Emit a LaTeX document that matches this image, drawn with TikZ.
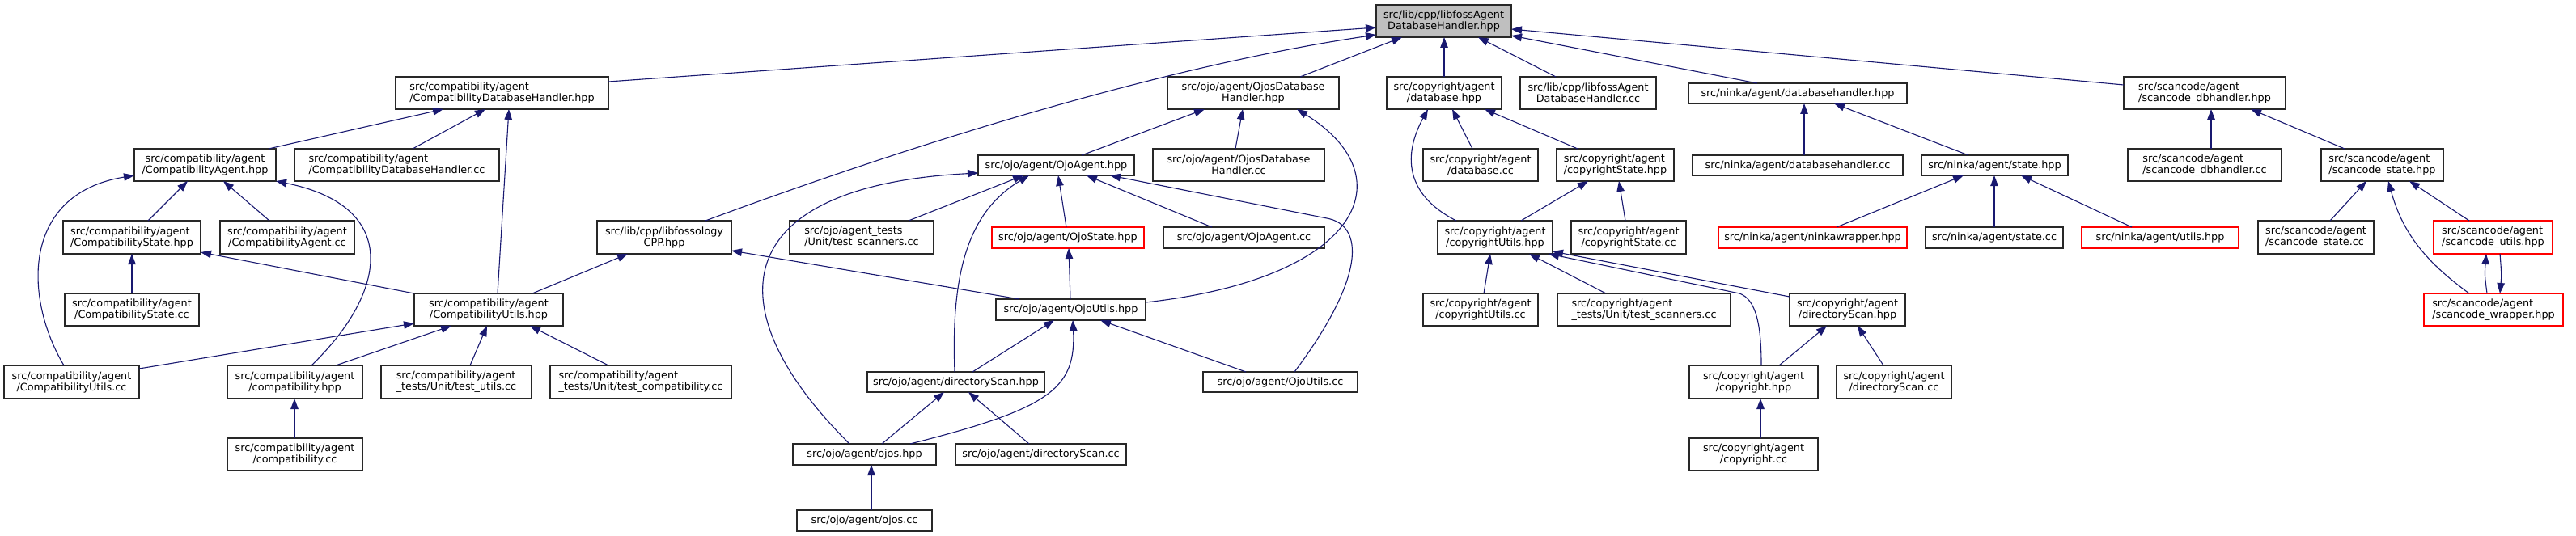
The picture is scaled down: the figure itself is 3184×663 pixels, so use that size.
\documentclass[tikz,border=0pt]{standalone}
\usepackage{fontspec}
\setmainfont{DejaVu Sans}
\usetikzlibrary{arrows.meta}
\definecolor{edgec}{RGB}{25,25,112}
\definecolor{nodeb}{RGB}{40,40,40}
\definecolor{rootfill}{RGB}{191,191,191}
\definecolor{truncc}{RGB}{255,0,0}
\newcommand\mknode[7]{\node[nbox,#6,minimum width={#4-#2},minimum height={#5-#3}] (#1) at ({(#2+#4)/2},{(#3+#5)/2}) {#7};}
\begin{document}
\begin{tikzpicture}[x=1pt,y=-1pt,
  nbox/.style={draw=nodeb,line width=1.2pt,rectangle,inner sep=0pt,outer sep=0pt,fill=white,font=\fontsize{12.8}{14}\selectfont},
  trunc/.style={draw=truncc},
  lal/.style={align=left},
  cal/.style={align=center},
  rootst/.style={fill=rootfill},
  edge/.style={draw=edgec,line width=1.1pt,-{Triangle[length=13pt,width=9.5pt]}}]
\useasboundingbox (0,0) rectangle (3184,663);
% row 1
\mknode{root}{1701}{6}{1868}{46}{cal,rootst}{src/lib/cpp/libfossAgent\\DatabaseHandler.hpp}
% row 2
\mknode{cdhh}{489}{95}{752}{135}{lal}{src/compatibility/agent\\/CompatibilityDatabaseHandler.hpp}
\mknode{ojdbh}{1443}{95}{1655}{135}{cal}{src/ojo/agent/OjosDatabase\\Handler.hpp}
\mknode{crdbh}{1714}{95}{1856}{135}{cal}{src/copyright/agent\\/database.hpp}
\mknode{lfadhcc}{1879}{95}{2047}{135}{cal}{src/lib/cpp/libfossAgent\\DatabaseHandler.cc}
\mknode{nkdbh}{2087}{103}{2357}{128}{cal}{src/ninka/agent/databasehandler.hpp}
\mknode{scdbh}{2625}{95}{2825}{135}{lal}{src/scancode/agent\\/scancode\_dbhandler.hpp}
% row 3
\mknode{cah}{166}{184}{341}{224}{cal}{src/compatibility/agent\\/CompatibilityAgent.hpp}
\mknode{cdhcc}{364}{184}{617}{224}{lal}{src/compatibility/agent\\/CompatibilityDatabaseHandler.cc}
\mknode{oah}{1209}{192}{1402}{217}{cal}{src/ojo/agent/OjoAgent.hpp}
\mknode{ojdbcc}{1425}{184}{1637}{224}{cal}{src/ojo/agent/OjosDatabase\\Handler.cc}
\mknode{crdbcc}{1759}{184}{1901}{224}{cal}{src/copyright/agent\\/database.cc}
\mknode{crsth}{1924}{184}{2069}{224}{lal}{src/copyright/agent\\/copyrightState.hpp}
\mknode{nkdbcc}{2092}{192}{2352}{217}{cal}{src/ninka/agent/databasehandler.cc}
\mknode{nksth}{2375}{192}{2556}{217}{cal}{src/ninka/agent/state.hpp}
\mknode{scdbcc}{2630}{184}{2820}{224}{lal}{src/scancode/agent\\/scancode\_dbhandler.cc}
\mknode{scsth}{2869}{184}{3020}{224}{lal}{src/scancode/agent\\/scancode\_state.hpp}
% row 4
\mknode{csh}{78}{273}{248}{314}{lal}{src/compatibility/agent\\/CompatibilityState.hpp}
\mknode{cacc}{272}{273}{438}{314}{cal}{src/compatibility/agent\\/CompatibilityAgent.cc}
\mknode{lfcpp}{738}{273}{904}{314}{cal}{src/lib/cpp/libfossology\\CPP.hpp}
\mknode{ojts}{976}{273}{1154}{314}{lal}{src/ojo/agent\_tests\\/Unit/test\_scanners.cc}
\mknode{osh}{1226}{281}{1414}{307}{cal,trunc}{src/ojo/agent/OjoState.hpp}
\mknode{oacc}{1438}{281}{1637}{307}{cal}{src/ojo/agent/OjoAgent.cc}
\mknode{cruh}{1777}{273}{1919}{314}{cal}{src/copyright/agent\\/copyrightUtils.hpp}
\mknode{crstcc}{1942}{273}{2084}{314}{cal}{src/copyright/agent\\/copyrightState.cc}
\mknode{nkwr}{2124}{281}{2357}{307}{cal,trunc}{src/ninka/agent/ninkawrapper.hpp}
\mknode{nkstcc}{2380}{281}{2550}{307}{cal}{src/ninka/agent/state.cc}
\mknode{nkuh}{2573}{281}{2767}{307}{cal,trunc}{src/ninka/agent/utils.hpp}
\mknode{scstcc}{2791}{273}{2934}{314}{lal}{src/scancode/agent\\/scancode\_state.cc}
\mknode{scuh}{3008}{273}{3155}{314}{lal,trunc}{src/scancode/agent\\/scancode\_utils.hpp}
% row 5
\mknode{cscc}{80}{363}{246}{403}{cal}{src/compatibility/agent\\/CompatibilityState.cc}
\mknode{cuh}{512}{363}{696}{403}{cal}{src/compatibility/agent\\/CompatibilityUtils.hpp}
\mknode{ouh}{1231}{370}{1416}{396}{cal}{src/ojo/agent/OjoUtils.hpp}
\mknode{crucc}{1759}{363}{1901}{403}{cal}{src/copyright/agent\\/copyrightUtils.cc}
\mknode{crts}{1925}{363}{2139}{403}{lal}{src/copyright/agent\\\_tests/Unit/test\_scanners.cc}
\mknode{crdsh}{2212}{363}{2355}{403}{cal}{src/copyright/agent\\/directoryScan.hpp}
\mknode{scwr}{2996}{363}{3168}{403}{lal,trunc}{src/scancode/agent\\/scancode\_wrapper.hpp}
% row 6
\mknode{cucc}{5}{452}{172}{493}{cal}{src/compatibility/agent\\/CompatibilityUtils.cc}
\mknode{comph}{281}{452}{448}{493}{cal}{src/compatibility/agent\\/compatibility.hpp}
\mknode{tucc}{471}{452}{657}{493}{lal}{src/compatibility/agent\\\_tests/Unit/test\_utils.cc}
\mknode{tccc}{680}{452}{904}{493}{lal}{src/compatibility/agent\\\_tests/Unit/test\_compatibility.cc}
\mknode{odsh}{1072}{460}{1291}{485}{cal}{src/ojo/agent/directoryScan.hpp}
\mknode{oucc}{1487}{460}{1678}{485}{cal}{src/ojo/agent/OjoUtils.cc}
\mknode{crh}{2088}{452}{2247}{493}{cal}{src/copyright/agent\\/copyright.hpp}
\mknode{crdscc}{2270}{452}{2412}{493}{cal}{src/copyright/agent\\/directoryScan.cc}
% row 7
\mknode{compcc}{281}{542}{448}{582}{cal}{src/compatibility/agent\\/compatibility.cc}
\mknode{ojosh}{980}{549}{1157}{575}{cal}{src/ojo/agent/ojos.hpp}
\mknode{odscc}{1181}{549}{1392}{575}{cal}{src/ojo/agent/directoryScan.cc}
\mknode{crcc}{2088}{542}{2247}{582}{cal}{src/copyright/agent\\/copyright.cc}
% row 8
\mknode{ojoscc}{985}{631}{1152}{657}{cal}{src/ojo/agent/ojos.cc}

% ---- edges to root
\draw[edge] (cdhh.east |- 0,101) -- (root.west |- 0,34);
\draw[edge] (872,0 |- lfcpp.north) .. controls (1150,170) and (1450,80) .. (root.west |- 0,43);
\draw[edge] (1607,0 |- ojdbh.north) -- (1733,0 |- root.south);
\draw[edge] (1785,0 |- crdbh.north) -- (1785,0 |- root.south);
\draw[edge] (1923,0 |- lfadhcc.north) -- (1827,0 |- root.south);
\draw[edge] (2172,0 |- nkdbh.north) -- (root.east |- 0,44);
\draw[edge] (scdbh.west |- 0,105) -- (root.east |- 0,36);
% ---- compatibility
\draw[edge] (332,0 |- cah.north) -- (548,0 |- cdhh.south);
\draw[edge] (510,0 |- cdhcc.north) -- (600,0 |- cdhh.south);
\draw[edge] (615,0 |- cuh.north) -- (629,0 |- cdhh.south);
\draw[edge] (183,0 |- csh.north) -- (232,0 |- cah.south);
\draw[edge] (333,0 |- cacc.north) -- (276,0 |- cah.south);
\draw[edge] (79,0 |- cucc.north) .. controls (30,370) and (25,240) .. (cah.west |- 0,217);
\draw[edge] (385,0 |- comph.north) .. controls (480,360) and (495,255) .. (cah.south east);
\draw[edge] (163,0 |- cscc.north) -- (163,0 |- csh.south);
\draw[edge] (cuh.north west) -- (csh.east |- 0,312);
\draw[edge] (cucc.east |- 0,456) -- (cuh.west |- 0,400);
\draw[edge] (415,0 |- comph.north) -- (558,0 |- cuh.south);
\draw[edge] (581,0 |- tucc.north) -- (602,0 |- cuh.south);
\draw[edge] (752,0 |- tccc.north) -- (655,0 |- cuh.south);
\draw[edge] (658,0 |- cuh.north) -- (776,0 |- lfcpp.south);
\draw[edge] (364,0 |- compcc.north) -- (364,0 |- comph.south);
% ---- ojo
\draw[edge] (1260,0 |- ouh.north) -- (lfcpp.east |- 0,310);
\draw[edge] (1337,0 |- oah.north) -- (1489,0 |- ojdbh.south);
\draw[edge] (1527,0 |- ojdbcc.north) -- (1536,0 |- ojdbh.south);
\draw[edge] (ouh.east |- 0,374) .. controls (1680,345) and (1740,220) .. (1603,0 |- ojdbh.south);
\draw[edge] (1123,0 |- ojts.north) -- (1265,0 |- oah.south);
\draw[edge] (1318,0 |- osh.north) -- (1308,0 |- oah.south);
\draw[edge] (1498,0 |- oacc.north) -- (1343,0 |- oah.south);
\draw[edge] (1600,0 |- oucc.north) .. controls (1690,340) and (1685,278) .. (1640,270) -- (1372,0 |- oah.south);
\draw[edge] (1180,0 |- odsh.north) .. controls (1175,330) and (1200,260) .. (1272,0 |- oah.south);
\draw[edge] (1050,0 |- ojosh.north) .. controls (880,380) and (900,230) .. (oah.west |- 0,214);
\draw[edge] (1323,0 |- ouh.north) -- (1321,0 |- osh.south);
\draw[edge] (1202,0 |- odsh.north) -- (1303,0 |- ouh.south);
\draw[edge] (1125,0 |- ojosh.north) .. controls (1300,505) and (1330,480) .. (1326,0 |- ouh.south);
\draw[edge] (1540,0 |- oucc.north) -- (1360,0 |- ouh.south);
\draw[edge] (1090,0 |- ojosh.north) -- (1167,0 |- odsh.south);
\draw[edge] (1272,0 |- odscc.north) -- (1197,0 |- odsh.south);
\draw[edge] (1077,0 |- ojoscc.north) -- (1077,0 |- ojosh.south);
% ---- copyright
\draw[edge] (1820,0 |- crdbcc.north) -- (1795,0 |- crdbh.south);
\draw[edge] (1950,0 |- crsth.north) -- (1835,0 |- crdbh.south);
\draw[edge] (1800,0 |- cruh.north) .. controls (1735,240) and (1735,190) .. (1765,0 |- crdbh.south);
\draw[edge] (1880,0 |- cruh.north) -- (1963,0 |- crsth.south);
\draw[edge] (2009,0 |- crstcc.north) -- (2001,0 |- crsth.south);
\draw[edge] (1834,0 |- crucc.north) -- (1842,0 |- cruh.south);
\draw[edge] (1985,0 |- crts.north) -- (1890,0 |- cruh.south);
\draw[edge] (crdsh.west |- 0,367) -- (cruh.east |- 0,311);
\draw[edge] (2177,0 |- crh.north) .. controls (2177,400) and (2170,370) .. (2150,363) -- (1914,0 |- cruh.south);
\draw[edge] (2199,0 |- crh.north) -- (2258,0 |- crdsh.south);
\draw[edge] (2328,0 |- crdscc.north) -- (2296,0 |- crdsh.south);
\draw[edge] (2176,0 |- crcc.north) -- (2176,0 |- crh.south);
% ---- ninka
\draw[edge] (2230,0 |- nkdbcc.north) -- (2230,0 |- nkdbh.south);
\draw[edge] (2433,0 |- nksth.north) -- (2267,0 |- nkdbh.south);
\draw[edge] (2270,0 |- nkwr.north) -- (2427,0 |- nksth.south);
\draw[edge] (2465,0 |- nkstcc.north) -- (2465,0 |- nksth.south);
\draw[edge] (2635,0 |- nkuh.north) -- (2498,0 |- nksth.south);
% ---- scancode
\draw[edge] (2733,0 |- scdbcc.north) -- (2733,0 |- scdbh.south);
\draw[edge] (2898,0 |- scsth.north) -- (2782,0 |- scdbh.south);
\draw[edge] (2880,0 |- scstcc.north) -- (2925,0 |- scsth.south);
\draw[edge] (3052,0 |- scwr.north) .. controls (3000,325) and (2970,290) .. (2952,0 |- scsth.south);
\draw[edge] (3052,0 |- scuh.north) -- (2978,0 |- scsth.south);
\draw[edge] (3074,0 |- scwr.north) .. controls (3071,340) .. (3073,0 |- scuh.south);
\draw[edge] (3090,0 |- scuh.south) .. controls (3092,340) .. (3090,0 |- scwr.north);
\end{tikzpicture}
\end{document}
